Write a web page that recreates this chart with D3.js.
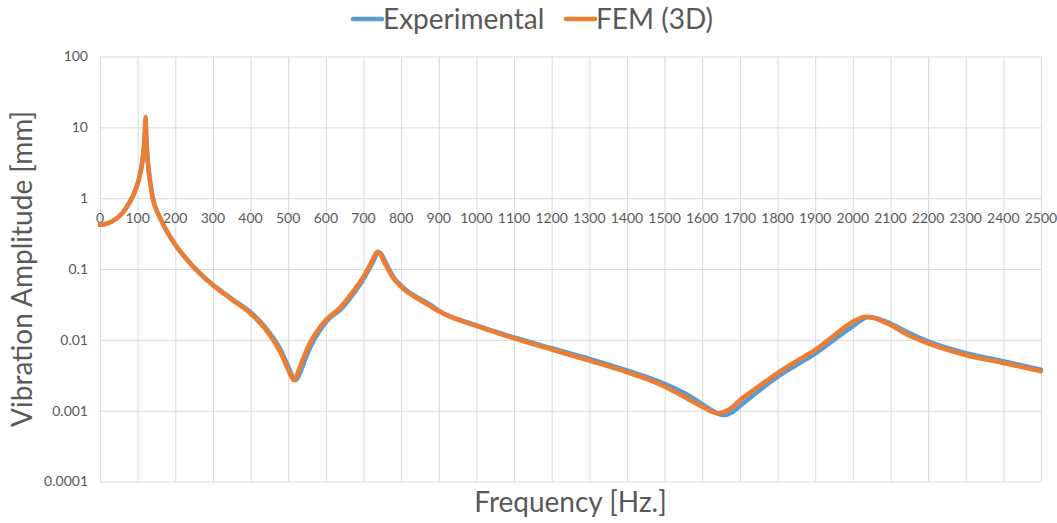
<!DOCTYPE html>
<html>
<head>
<meta charset="utf-8">
<script src="https://cdn.jsdelivr.net/npm/d3@7"></script>
<style>
    body { margin: 0; background: #ffffff; }
    svg { font-family: Lato, "Open Sans", sans-serif; }
    .grid line { stroke: #d9d9d9; stroke-width: 1; }
    .grid path { display: none; }
    .tickLabel { fill: #595959; font-size: 14px; }
    .title { fill: #595959; font-size: 28px; }
</style>
</head>
<body>
<svg id="chartSvg" width="1057" height="523"></svg>
<script>
// series names
let seriesNames = ['Experimental', 'FEM (3D)'];
let seriesColours = ['#5b9bd5', '#ed7d31'];

// experimental curve (Hz, mm)
let freqExp = [0, 20, 40, 60, 80, 90, 100, 105, 110, 114, 117, 119, 121, 123, 125, 128, 132, 136, 141, 150, 160, 175, 200, 240, 300, 350, 400, 440, 480, 500, 520, 535, 550, 565, 585, 605, 640, 675, 700, 725, 740, 745, 760, 782, 800, 835, 875, 900, 1000, 1100, 1200, 1300, 1400, 1500, 1550, 1600, 1630, 1655, 1680, 1700, 1750, 1800, 1850, 1900, 1950, 2000, 2042, 2065, 2100, 2150, 2200, 2300, 2400, 2500];
let ampExp = [0.42, 0.44, 0.5, 0.62, 0.9, 1.15, 1.6, 2.0, 2.7, 3.8, 5.4, 7.5, 12, 6.8, 4.5, 2.9, 1.9, 1.35, 0.95, 0.68, 0.52, 0.36, 0.22, 0.12, 0.06, 0.038, 0.0245, 0.0148, 0.0072, 0.0042, 0.0027, 0.0038, 0.0062, 0.0092, 0.0138, 0.019, 0.027, 0.046, 0.072, 0.125, 0.172, 0.168, 0.12, 0.074, 0.058, 0.042, 0.032, 0.0258, 0.016, 0.0108, 0.0076, 0.0054, 0.0037, 0.0024, 0.0018, 0.00124, 0.00098, 0.00087, 0.00095, 0.00116, 0.0019, 0.003, 0.0044, 0.0064, 0.01, 0.0155, 0.021, 0.02, 0.017, 0.0125, 0.0095, 0.0065, 0.005, 0.0038];

// FEM curve (Hz, mm)
let freqFem = [0, 20, 40, 60, 80, 90, 100, 105, 110, 114, 117, 119, 121, 123, 125, 128, 132, 136, 141, 150, 160, 175, 200, 240, 300, 350, 400, 440, 480, 500, 515, 530, 545, 560, 580, 600, 637, 672, 700, 722, 737, 742, 757, 779, 800, 831, 871, 900, 1000, 1100, 1200, 1300, 1400, 1500, 1550, 1600, 1640, 1675, 1700, 1750, 1800, 1850, 1900, 1950, 2000, 2035, 2060, 2100, 2150, 2200, 2300, 2400, 2500];
let ampFem = [0.42, 0.44, 0.5, 0.62, 0.9, 1.15, 1.6, 2.0, 2.7, 3.8, 5.5, 8, 14, 7, 4.5, 2.9, 1.9, 1.35, 0.95, 0.68, 0.52, 0.36, 0.22, 0.12, 0.059, 0.037, 0.0235, 0.014, 0.0065, 0.0038, 0.0027, 0.004, 0.0064, 0.0095, 0.014, 0.019, 0.028, 0.048, 0.078, 0.127, 0.175, 0.17, 0.12, 0.074, 0.056, 0.042, 0.0315, 0.0253, 0.0157, 0.0105, 0.0073, 0.0051, 0.0035, 0.0022, 0.00158, 0.00114, 0.00092, 0.00107, 0.0014, 0.0022, 0.0034, 0.005, 0.0072, 0.0115, 0.018, 0.0212, 0.02, 0.0162, 0.0115, 0.0089, 0.0061, 0.0047, 0.0036];

// axis ticks
let xTicks = d3.range(0, 2501, 100);
let yTicks = [0.0001, 0.001, 0.01, 0.1, 1, 10, 100];
let yTickLabels = ['0.0001', '0.001', '0.01', '0.1', '1', '10', '100'];

function drawChart() {
    let svg = d3.select("#chartSvg");
    let left = 100, right = 1041, top = 56.5, bottom = 481.5;

    let xScale = d3.scaleLinear()
        .domain([0, 2500])
        .range([left, right]);

    let yScale = d3.scaleLog()
        .domain([0.0001, 100])
        .range([bottom, top]);

    //vertical grid
    svg.append('g')
        .attr('class', 'grid')
        .attr('transform', 'translate(0, ' + bottom + ')')
        .call(d3.axisBottom(xScale)
            .tickValues(xTicks)
            .tickSize(-(bottom - top))
            .tickFormat(''));

    //horizontal grid
    svg.append('g')
        .attr('class', 'grid')
        .attr('transform', 'translate(' + left + ', 0)')
        .call(d3.axisLeft(yScale)
            .tickValues(yTicks)
            .tickSize(-(right - left))
            .tickFormat(''));

    //y tick labels
    svg.append('g').selectAll('text')
        .data(yTicks)
        .enter()
        .append('text')
        .attr('class', 'tickLabel')
        .attr('x', left - 12)
        .attr('y', function(d) {return yScale(d)})
        .attr('dy', '0.35em')
        .attr('text-anchor', 'end')
        .text(function(d, i) {return yTickLabels[i]});

    //x tick labels sit on the y=1 line
    svg.append('g').selectAll('text')
        .data(xTicks)
        .enter()
        .append('text')
        .attr('class', 'tickLabel')
        .attr('x', function(d) {return xScale(d)})
        .attr('y', yScale(1) + 20)
        .attr('dy', '0.35em')
        .attr('text-anchor', 'middle')
        .text(function(d) {return d});

    //lines
    let line = d3.line()
        .x(function(d) {return xScale(d[0])})
        .y(function(d) {return yScale(d[1])})
        .curve(d3.curveMonotoneX);

    let series = [d3.zip(freqExp, ampExp), d3.zip(freqFem, ampFem)];
    for (i = 0; i < series.length; i++) {
        svg.append('path')
            .datum(series[i])
            .attr('d', line)
            .attr('fill', 'none')
            .attr('stroke', seriesColours[i])
            .attr('stroke-width', 4.5)
            .attr('stroke-linejoin', 'round')
            .attr('stroke-linecap', 'round');
    }

    //legend
    let legendX = [353, 566];
    for (i = 0; i < seriesNames.length; i++) {
        svg.append('line')
            .attr('x1', legendX[i])
            .attr('x2', legendX[i] + 29)
            .attr('y1', 19)
            .attr('y2', 19)
            .attr('stroke', seriesColours[i])
            .attr('stroke-width', 4.5)
            .attr('stroke-linecap', 'round');
        svg.append('text')
            .attr('class', 'title')
            .attr('x', legendX[i] + 30)
            .attr('y', 28.5)
            .text(seriesNames[i]);
    }

    //axis titles
    svg.append('text')
        .attr('class', 'title')
        .attr('x', (left + right) / 2)
        .attr('y', 512)
        .attr('text-anchor', 'middle')
        .text('Frequency [Hz.]');

    svg.append('text')
        .attr('class', 'title')
        .attr('transform', 'translate(32, ' + (top + bottom) / 2 + ') rotate(-90)')
        .attr('text-anchor', 'middle')
        .text('Vibration Amplitude [mm]');
}

drawChart();
</script>
</body>
</html>
